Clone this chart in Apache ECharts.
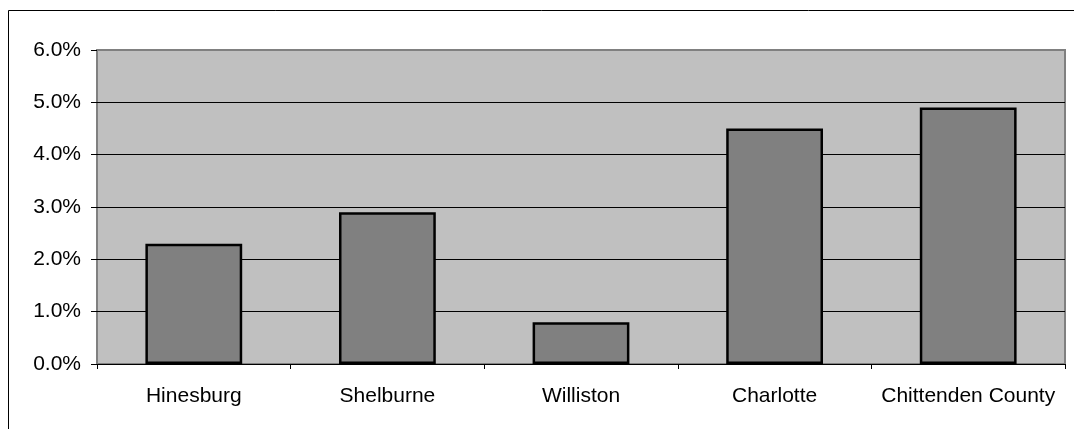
<!DOCTYPE html>
<html>
<head>
<meta charset="utf-8">
<script src="https://cdn.jsdelivr.net/npm/echarts@6/dist/echarts.min.js"></script>
<style>
html,body{margin:0;padding:0;background:#fff;}
#chart{width:1074px;height:429px;}
</style>
</head>
<body>
<div id="chart"></div>
<script>
const categories = ['Hinesburg', 'Shelburne', 'Williston', 'Charlotte', 'Chittenden County'];
const values = [2.3, 2.9, 0.8, 4.5, 4.9];
const yTicks = [0, 1, 2, 3, 4, 5, 6];

const chart = echarts.init(document.getElementById('chart'), null, {renderer: 'canvas'});
const font = '"Liberation Sans", Arial, sans-serif';
chart.setOption({
  animation: false,
  backgroundColor: '#ffffff',
  graphic: [{
    type: 'rect',
    shape: {x: 8.5, y: 10.5, width: 1200, height: 600},
    style: {fill: 'none', stroke: '#000', lineWidth: 1},
    silent: true,
    z: -10
  }],
  grid: {
    left: 97, right: 9, top: 50, bottom: 65,
    show: true,
    backgroundColor: '#C0C0C0',
    borderColor: '#808080',
    borderWidth: 2
  },
  xAxis: {
    type: 'category',
    data: categories,
    boundaryGap: true,
    axisLine: {show: true, lineStyle: {color: '#000', width: 1}},
    axisTick: {show: true, length: 5, inside: false, lineStyle: {color: '#000'}},
    axisLabel: {color: '#000', fontFamily: font, fontSize: 21, margin: 22, interval: 0},
    splitLine: {show: false}
  },
  yAxis: {
    type: 'value',
    min: yTicks[0],
    max: yTicks[yTicks.length - 1],
    interval: 1,
    axisLine: {show: false},
    axisTick: {show: true, length: 6, lineStyle: {color: '#000'}},
    axisLabel: {
      color: '#000', fontFamily: font, fontSize: 21, margin: 16,
      formatter: v => v.toFixed(1) + '%'
    },
    splitLine: {show: true, showMinLine: false, showMaxLine: false, lineStyle: {color: '#000', width: 1}}
  },
  series: [{
    type: 'bar',
    data: values,
    barWidth: '50%',
    itemStyle: {color: '#808080', borderColor: '#000', borderWidth: 2.5}
  }]
});
</script>
</body>
</html>
